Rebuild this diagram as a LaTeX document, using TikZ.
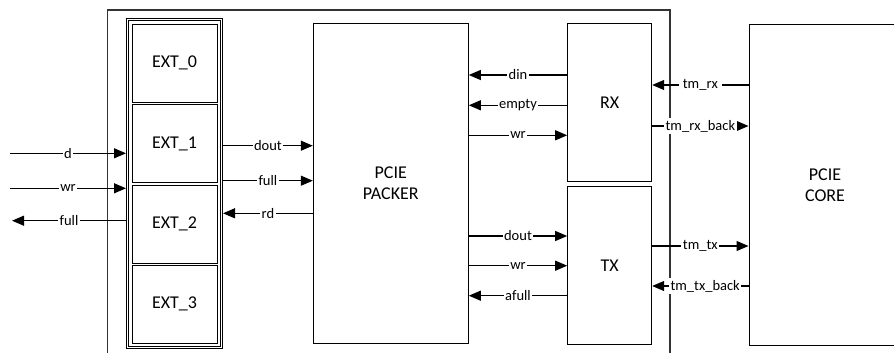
\documentclass[tikz,border=0pt]{standalone}
\usepackage{fontspec}
\setmainfont{Carlito}
\usetikzlibrary{arrows.meta,calc}
\begin{document}
\begin{tikzpicture}[x=1pt,y=-1pt,
  blk/.style={draw,line width=1pt,inner sep=0pt,font=\fontsize{18}{21.5}\selectfont,align=center},
  sig/.style={line width=1.2pt,-{Triangle[length=12pt,width=10pt]}},
  lbl/.style={fill=white,inner sep=1.5pt,font=\fontsize{14.5}{16}\selectfont}]
\useasboundingbox (0,0) rectangle (894,353);
\clip (0,0) rectangle (894,353);
% outer frame (bottom beyond the picture)
\draw[line width=1.2pt,black!80] (107.5,365) -- (107.5,10) -- (670,10) -- (670,365);
% EXT container (double border)
\node[draw,line width=1pt,minimum width=96pt,minimum height=330pt,inner sep=0pt] (box) at (174.5,183.5) {};
\node[draw,line width=1pt,minimum width=91.5pt,minimum height=325.5pt,inner sep=0pt] (boxin) at (174.5,183.5) {};
\node[blk,minimum width=85pt,minimum height=78pt] (e0) at (174.5,63.3) {EXT\_0};
\node[blk,minimum width=85pt,minimum height=78pt] (e1) at (174.5,143.8) {EXT\_1};
\node[blk,minimum width=85pt,minimum height=78pt] (e2) at (174.5,224.3) {EXT\_2};
\node[blk,minimum width=85pt,minimum height=78pt] (e3) at (174.5,304.3) {EXT\_3};
% main blocks
\node[blk,minimum width=155pt,minimum height=320pt] (packer) at (390.8,183.3) {PCIE\\PACKER};
\node[blk,minimum width=84pt,minimum height=157.7pt] (rx) at (609.7,102.85) {RX};
\node[blk,minimum width=84pt,minimum height=157.3pt] (tx) at (609.7,265.35) {TX};
\node[blk,minimum width=152pt,minimum height=320pt] (core) at (825,185) {PCIE\\CORE};
% external ports
\coordinate (dL) at (10,153.3);
\coordinate (wL) at (10,188.3);
\coordinate (fL) at (12,220.7);
\draw[sig] (dL) -- (box.west |- dL) node[lbl,midway]{d};
\draw[sig] (wL) -- (box.west |- wL) node[lbl,midway]{wr};
\draw[sig] (box.west |- fL) -- (fL) node[lbl,midway]{full};
% EXT <-> packer
\draw[sig] (box.east |- 0,145.7) -- (packer.west |- 0,145.7) node[lbl,midway]{dout};
\draw[sig] (box.east |- 0,180.7) -- (packer.west |- 0,180.7) node[lbl,midway]{full};
\draw[sig] (packer.west |- 0,213.3) -- (box.east |- 0,213.3) node[lbl,midway]{rd};
% packer <-> RX
\draw[sig] (rx.west |- 0,75) -- (packer.east |- 0,75) node[lbl,midway]{din};
\draw[sig] (rx.west |- 0,105.3) -- (packer.east |- 0,105.3) node[lbl,midway]{empty};
\draw[sig] (packer.east |- 0,135.3) -- (rx.west |- 0,135.3) node[lbl,midway]{wr};
% packer <-> TX
\draw[sig] (packer.east |- 0,236) -- (tx.west |- 0,236) node[lbl,midway]{dout};
\draw[sig] (packer.east |- 0,265.7) -- (tx.west |- 0,265.7) node[lbl,midway]{wr};
\draw[sig] (tx.west |- 0,295.7) -- (packer.east |- 0,295.7) node[lbl,midway]{afull};
% RX/TX <-> core
\draw[sig] (core.west |- 0,85) -- (rx.east |- 0,85) node[lbl,midway,inner xsep=4pt]{tm\_rx};
\draw[sig] (rx.east |- 0,126) -- (core.west |- 0,126) node[lbl,midway]{tm\_rx\_back};
\draw[sig] (tx.east |- 0,246) -- (core.west |- 0,246) node[lbl,midway]{tm\_tx};
\draw[sig] (core.west |- 0,286) -- (tx.east |- 0,286) node[lbl,pos=0.45]{tm\_tx\_back};
\end{tikzpicture}
\end{document}
